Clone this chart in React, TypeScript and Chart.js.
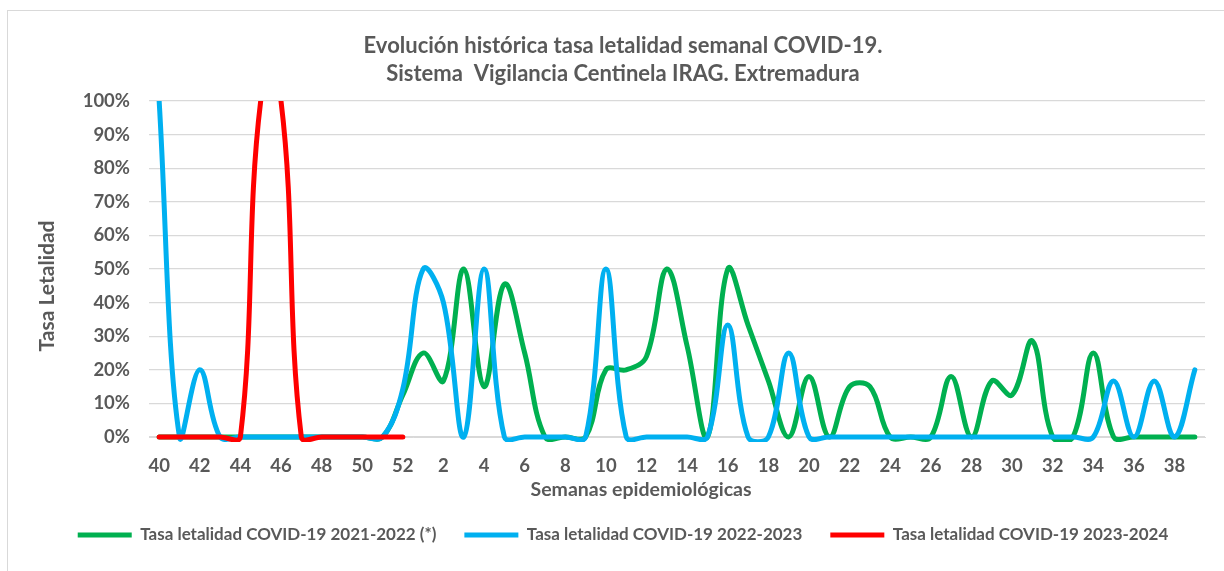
import React, { useEffect, useRef } from "react";
import { Chart, registerables } from "chart.js";
Chart.register(...registerables);

const weeks: number[] = [
  40, 41, 42, 43, 44, 45, 46, 47, 48, 49, 50, 51, 52,
  1, 2, 3, 4, 5, 6, 7, 8, 9, 10, 11, 12, 13, 14, 15, 16, 17, 18, 19, 20,
  21, 22, 23, 24, 25, 26, 27, 28, 29, 30, 31, 32, 33, 34, 35, 36, 37, 38, 39,
];

// Tasa letalidad COVID-19 2021-2022 (*)
const green2122: number[] = [
  0, 0, 0, 0, 0, 0, 0, 0, 0, 0, 0, 0, 12.5,
  25, 16.7, 50, 15, 45.5, 25, 0, 0, 0, 20, 20, 24, 50, 27, 0, 50, 33.3, 16.7, 0, 18,
  0, 15, 15, 0, 0, 0, 18, 0, 16.7, 12.5, 28.6, 0, 0, 25, 0, 0, 0, 0, 0,
];

// Tasa letalidad COVID-19 2022-2023
const blue2223: number[] = [
  100, 0, 20, 0, 0, 0, 0, 0, 0, 0, 0, 0, 14.3,
  50, 40, 0, 50, 0, 0, 0, 0, 0, 50, 0, 0, 0, 0, 0, 33.3, 0, 0, 25, 0,
  0, 0, 0, 0, 0, 0, 0, 0, 0, 0, 0, 0, 0, 0, 16.7, 0, 16.7, 0, 20,
];

// Tasa letalidad COVID-19 2023-2024
const red2324: number[] = [0, 0, 0, 0, 0, 100, 100, 0, 0, 0, 0, 0, 0];

const seriesNames: string[] = [
  "Tasa letalidad COVID-19 2021-2022 (*)",
  "Tasa letalidad COVID-19 2022-2023",
  "Tasa letalidad COVID-19 2023-2024",
];

const titleLines: string[] = [
  "Evolución histórica tasa letalidad semanal COVID-19.",
  "Sistema  Vigilancia Centinela IRAG. Extremadura",
];

const xAxisTitle = "Semanas epidemiológicas";
const yAxisTitle = "Tasa Letalidad";

const TEXT = "#595959";
const FONT = "Lato";

const axisTitlesPlugin = {
  id: "axisTitlesPlugin",
  afterDraw(chart: any) {
    const { ctx, chartArea } = chart;
    ctx.save();
    ctx.fillStyle = TEXT;
    ctx.textAlign = "center";
    ctx.textBaseline = "middle";
    // x-axis title (Excel places it slightly left of the plot centre)
    ctx.font = `bold 19.5px ${FONT}`;
    ctx.fillText(xAxisTitle, (chartArea.left + chartArea.right) / 2 - 36, chartArea.bottom + 53);
    // y-axis title
    ctx.font = `bold 21px ${FONT}`;
    ctx.translate(47, (chartArea.top + chartArea.bottom) / 2 + 17);
    ctx.rotate(-Math.PI / 2);
    ctx.fillText(yAxisTitle, 0, 0);
    ctx.restore();
  },
};

export default function App() {
  const ref = useRef<HTMLCanvasElement | null>(null);

  useEffect(() => {
    if (!ref.current) return;
    const mk = (label: string, data: number[], color: string, order: number) => ({
      label,
      data,
      borderColor: color,
      backgroundColor: color,
      borderWidth: 5,
      borderCapStyle: "round" as const,
      borderJoinStyle: "round" as const,
      pointRadius: 0,
      pointHoverRadius: 0,
      tension: 0.38,
      capBezierPoints: false,
      clip: { left: 5, top: 0, right: 5, bottom: 5 },
      order,
    });
    const chart = new Chart(ref.current, {
      type: "line",
      data: {
        labels: weeks.map(String),
        datasets: [
          mk(seriesNames[0], green2122, "#00B050", 3),
          mk(seriesNames[1], blue2223, "#00B0F0", 2),
          mk(seriesNames[2], red2324, "#FF0000", 1),
        ],
      },
      plugins: [axisTitlesPlugin],
      options: {
        responsive: false,
        animation: false,
        devicePixelRatio: 1,
        layout: { padding: { left: 41, right: 19, top: 22, bottom: 17.5 } },
        plugins: {
          tooltip: { enabled: false },
          title: {
            display: true,
            text: titleLines,
            color: TEXT,
            font: { family: FONT, size: 22, weight: "bold", lineHeight: 28 / 22 },
            padding: { top: 10, bottom: 13 },
          },
          legend: {
            position: "bottom",
            labels: {
              usePointStyle: true,
              pointStyle: "line",
              pointStyleWidth: 54,
              boxHeight: 5,
              padding: 28,
              color: TEXT,
              font: { family: FONT, size: 17, weight: "bold" },
              sort: (a: any, b: any) => a.datasetIndex - b.datasetIndex,
            },
          },
        },
        scales: {
          x: {
            offset: true,
            grid: { display: false, drawTicks: false },
            border: { display: true, color: "#d9d9d9", width: 1 },
            ticks: {
              autoSkip: false,
              maxRotation: 0,
              minRotation: 0,
              padding: 18,
              color: TEXT,
              font: { family: FONT, size: 18.5, weight: "bold" },
              callback: (_v: any, i: number) => (i % 2 === 0 ? String(weeks[i]) : ""),
            },
            afterFit: (s: any) => {
              s.height = 61.5;
            },
          },
          y: {
            min: 0,
            max: 100,
            grid: { color: "#d9d9d9", lineWidth: 1.3, drawTicks: false },
            border: { display: false },
            ticks: {
              stepSize: 10,
              padding: 19,
              color: TEXT,
              font: { family: FONT, size: 18.5, weight: "bold" },
              callback: (v: any) => v + "%",
            },
            afterFit: (s: any) => {
              s.width = 108;
            },
          },
        },
      } as any,
    });
    return () => chart.destroy();
  }, []);

  return (
    <div
      style={{
        position: "fixed",
        left: 0,
        top: 0,
        width: 1224,
        height: 571,
        overflow: "hidden",
        background: "#ffffff",
      }}
    >
      <div
        style={{
          position: "absolute",
          left: 7,
          top: 10,
          width: 1300,
          height: 700,
          border: "1px solid #d9d9d9",
          boxSizing: "border-box",
        }}
      />
      <canvas
        ref={ref}
        width={1224}
        height={571}
        style={{ position: "absolute", left: 0, top: 0, width: 1224, height: 571 }}
      />
    </div>
  );
}
